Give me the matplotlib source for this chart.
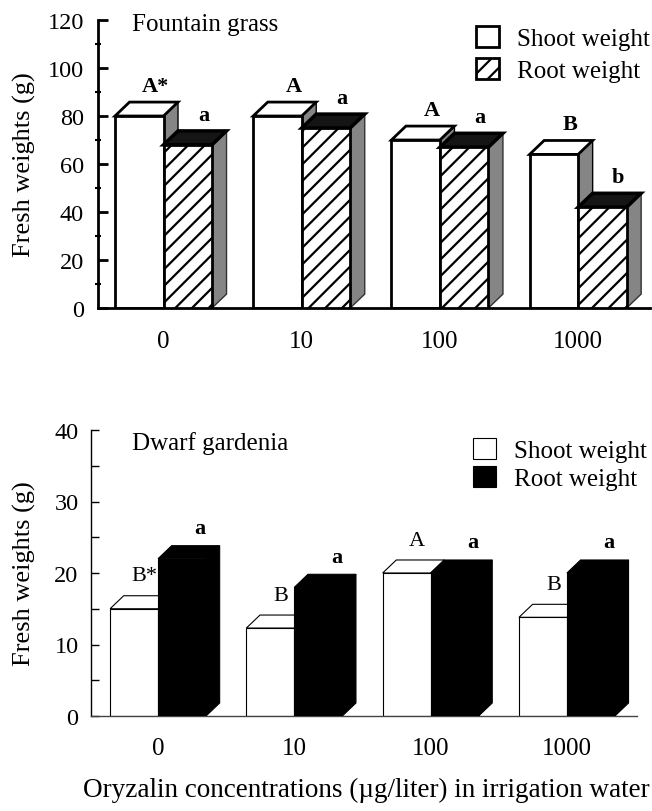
import matplotlib
matplotlib.use("Agg")
import matplotlib.pyplot as plt
from matplotlib.patches import Polygon, Patch
from matplotlib.ticker import MultipleLocator

plt.rcParams['font.family'] = ['Liberation Serif', 'DejaVu Serif']
plt.rcParams['hatch.linewidth'] = 1.6

# ---------------- data ----------------
concentrations = ["0", "10", "100", "1000"]
series_names = ["Shoot weight", "Root weight"]

fg_shoot = [80, 80, 70, 64]
fg_root = [68, 75, 67, 42]
fg_shoot_letters = ["A*", "A", "A", "B"]
fg_root_letters = ["a", "a", "a", "b"]

dg_shoot = [15, 12.3, 20, 13.8]
dg_root = [22, 18, 20, 20]
dg_shoot_letters = ["B*", "B", "A", "B"]
dg_root_letters = ["a", "a", "a", "a"]

W = 652 / 100
H = 812 / 100
fig = plt.figure(figsize=(W, H), dpi=100)

def px_axes(left, right, top, bottom):
    return fig.add_axes([left / 652, 1 - bottom / 812, (right - left) / 652, (bottom - top) / 812])

ax1 = px_axes(98, 650, 21, 309)
ax2 = px_axes(91, 637, 431, 717)

def box3d(ax, x0, w, v, dx, dy, front_kw, top_kw, side_kw):
    side = Polygon([(x0 + w, 0), (x0 + w + dx, dy), (x0 + w + dx, v + dy), (x0 + w, v)], closed=True, **side_kw)
    top = Polygon([(x0, v), (x0 + dx, v + dy), (x0 + w + dx, v + dy), (x0 + w, v)], closed=True, **top_kw)
    front = Polygon([(x0, 0), (x0 + w, 0), (x0 + w, v), (x0, v)], closed=True, **front_kw)
    for p in (side, top, front):
        ax.add_patch(p)

# ---------------- top panel: Fountain grass ----------------
w1, dx1, dy1 = 0.351, 0.105, 5.8
gray = '#858585'
for i, (s, r) in enumerate(zip(fg_shoot, fg_root)):
    box3d(ax1, i - w1, w1, s, dx1, dy1,
          dict(fc='white', ec='black', lw=2, zorder=2),
          dict(fc='white', ec='black', lw=2, zorder=2),
          dict(fc=gray, ec='black', lw=1, zorder=2))
    box3d(ax1, i, w1, r, dx1, dy1,
          dict(fc='white', ec='black', lw=2, hatch='//', zorder=3),
          dict(fc='#151515', ec='black', lw=2.5, zorder=3),
          dict(fc=gray, ec='#333333', lw=1, zorder=3))
    ax1.text(i - 0.06, s + 12.5, fg_shoot_letters[i], ha='center', va='center',
             fontsize=16, fontweight='bold')
    ax1.text(i + 0.29, r + 12.5, fg_root_letters[i], ha='center', va='center',
             fontsize=16, fontweight='bold')

ax1.set_xlim(-0.474, 3.520)
ax1.set_ylim(0, 120)
ax1.spines['top'].set_visible(False)
ax1.spines['right'].set_visible(False)
ax1.spines['left'].set_linewidth(2)
ax1.spines['bottom'].set_linewidth(2)
ax1.yaxis.set_major_locator(MultipleLocator(20))
ax1.yaxis.set_minor_locator(MultipleLocator(10))
ax1.tick_params(axis='y', which='major', direction='in', length=7, width=2, pad=10, labelsize=17.5)
ax1.tick_params(axis='y', which='minor', direction='inout', length=4, width=1.5)
ax1.set_xticks(range(len(concentrations)))
ax1.set_xticklabels(concentrations)
ax1.tick_params(axis='x', length=0, pad=16, labelsize=18)
ax1.set_ylabel("Fresh weights (g)", fontsize=19)
ax1.yaxis.set_label_coords(-0.112, 0.5)
ax1.text(0.0616, 0.986, "Fountain grass", transform=ax1.transAxes, ha='left', va='center', fontsize=18)
ax1.legend(handles=[Patch(fc='white', ec='black', lw=2),
                    Patch(fc='white', ec='black', lw=2, hatch='//')],
           labels=series_names, loc='upper left', bbox_to_anchor=(476 / 652, 1 - 27 / 812),
           bbox_transform=fig.transFigure, frameon=False, fontsize=18,
           handlelength=0.92, handleheight=0.92, handletextpad=0.72,
           labelspacing=0.3, borderpad=0, borderaxespad=0)

# ---------------- bottom panel: Dwarf gardenia ----------------
w2, dx2, dy2 = 0.352, 0.10, 1.82
for i, (s, r) in enumerate(zip(dg_shoot, dg_root)):
    box3d(ax2, i - w2, w2, s, dx2, dy2,
          dict(fc='white', ec='black', lw=0.8, zorder=2),
          dict(fc='white', ec='black', lw=0.8, zorder=2),
          dict(fc='white', ec='black', lw=0.8, zorder=2))
    box3d(ax2, i, w2, r, dx2, dy2,
          dict(fc='black', ec='black', lw=0.8, zorder=3),
          dict(fc='black', ec='black', lw=0.8, zorder=3),
          dict(fc='black', ec='black', lw=0.8, zorder=3))
    ax2.text(i - 0.1, s + 4.6, dg_shoot_letters[i], ha='center', va='center', fontsize=16)
    ax2.text(i + 0.31, r + 4.3, dg_root_letters[i], ha='center', va='center',
             fontsize=16, fontweight='bold')

ax2.set_xlim(-0.492, 3.514)
ax2.set_ylim(0, 40)
ax2.spines['top'].set_visible(False)
ax2.spines['right'].set_visible(False)
ax2.spines['left'].set_linewidth(1)
ax2.spines['bottom'].set_linewidth(1)
ax2.spines['bottom'].set_color('#444444')
ax2.yaxis.set_major_locator(MultipleLocator(10))
ax2.yaxis.set_minor_locator(MultipleLocator(5))
ax2.tick_params(axis='y', which='major', direction='in', length=6, width=1, pad=9, labelsize=17.5)
ax2.tick_params(axis='y', which='minor', direction='in', length=6, width=1)
ax2.set_xticks(range(len(concentrations)))
ax2.set_xticklabels(concentrations)
ax2.tick_params(axis='x', length=0, pad=15, labelsize=18)
ax2.set_ylabel("Fresh weights (g)", fontsize=19)
ax2.yaxis.set_label_coords(-0.1, 0.5)
ax2.text(0.075, 0.958, "Dwarf gardenia", transform=ax2.transAxes, ha='left', va='center', fontsize=18)
ax2.legend(handles=[Patch(fc='white', ec='black', lw=0.8),
                    Patch(fc='black', ec='black', lw=0.8)],
           labels=series_names, loc='upper left', bbox_to_anchor=(473 / 652, 1 - 439 / 812),
           bbox_transform=fig.transFigure, frameon=False, fontsize=18,
           handlelength=0.92, handleheight=0.92, handletextpad=0.72,
           labelspacing=0.15, borderpad=0, borderaxespad=0)

fig.text(366 / 652, 1 - 790 / 812, "Oryzalin concentrations (\u00b5g/liter) in irrigation water",
         ha='center', va='center', fontsize=19.5)

fig.savefig("out.png", dpi=100)
